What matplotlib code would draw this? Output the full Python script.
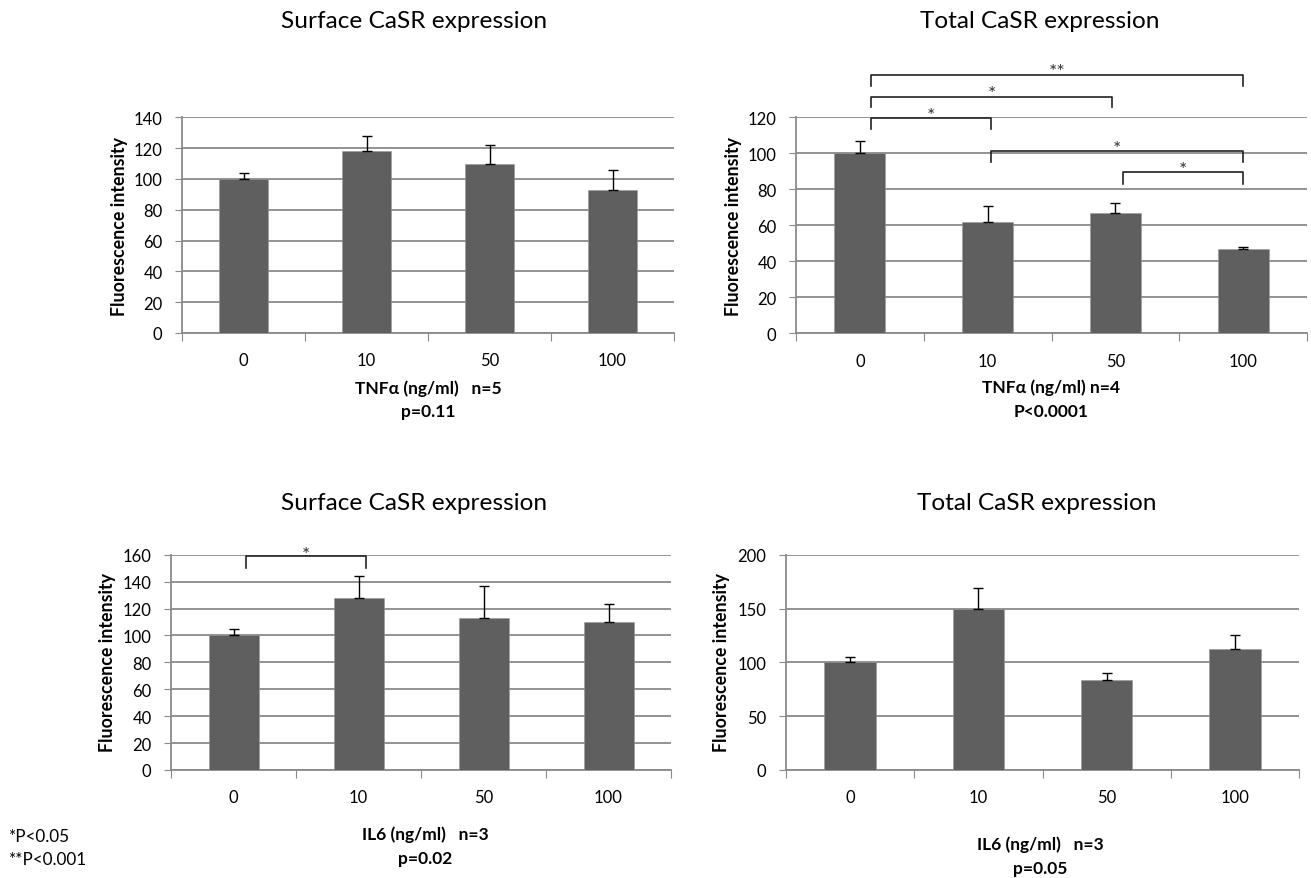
import matplotlib
matplotlib.use("Agg")
import matplotlib.pyplot as plt
import numpy as np

# ---------------- data ----------------
CATEGORIES = ["0", "10", "50", "100"]

SURF_TNF = [100, 118, 110, 93]
SURF_TNF_ERR = [4, 10, 12, 13]

TOTAL_TNF = [100, 62, 67, 47]
TOTAL_TNF_ERR = [7, 9, 5.5, 1.1]

SURF_IL6 = [100, 128, 113, 110]
SURF_IL6_ERR = [5, 16, 23.5, 13.4]

TOTAL_IL6 = [100, 150, 84, 112]
TOTAL_IL6_ERR = [5, 19, 6, 13]

# significance brackets: (from category, to category, bar height, drop height, star label, star height)
TOTAL_TNF_BRACKETS = [
    (0.09, 1.03, 119.4, 113.5, "*", 123.7),
    (0.09, 1.97, 131.5, 125.9, "*", 136.0),
    (0.09, 3.00, 143.7, 137.6, "**", 148.0),
    (1.03, 3.00, 101.3, 95.0, "*", 105.6),
    (2.06, 3.00, 89.4, 83.0, "*", 93.5),
]
SURF_IL6_BRACKETS = [
    (0.10, 1.06, 159.0, 150.3, "*", 164.0),
]

FONT = "Lato"
W, H = 1311, 879
BAR_COLOR = "#5f5f5f"
GRID_COLOR = "#8a8a8a"

fig = plt.figure(figsize=(W / 100, H / 100), dpi=100)


def fx(x):
    return x / W


def fy(y):
    return 1 - y / H


def make_axes(x0, x1, ytop, y0):
    return fig.add_axes([fx(x0), fy(y0), fx(x1) - fx(x0), fy(ytop) - fy(y0)])


def draw_panel(ax, values, errs, ymax, ystep):
    x = np.arange(len(CATEGORIES))
    ax.bar(x, values, width=0.4, color=BAR_COLOR, zorder=3,
           edgecolor="#9a9a9a", linewidth=0.4)
    ax.errorbar(x, values, yerr=[np.zeros(len(errs)), errs], fmt="none",
                ecolor="black", elinewidth=1.0, capsize=3.6, capthick=1.0,
                zorder=4)
    ax.set_xlim(-0.5, len(CATEGORIES) - 0.5)
    ax.set_ylim(0, ymax)
    ticks = np.arange(0, ymax + 0.1, ystep)
    ax.set_yticks(ticks)
    ax.set_yticklabels([str(int(v)) for v in ticks], fontsize=12, family=FONT)
    ax.yaxis.grid(True, color=GRID_COLOR, linewidth=1.3, zorder=0)
    ax.set_axisbelow(True)
    # category boundaries as major ticks, category names as minor ticks
    ax.set_xticks(np.arange(-0.5, len(CATEGORIES)))
    ax.set_xticklabels([])
    ax.set_xticks(x, minor=True)
    ax.set_xticklabels(CATEGORIES, minor=True, fontsize=12, family=FONT)
    ax.tick_params(axis="x", which="major", length=6, color=GRID_COLOR,
                   direction="out")
    ax.tick_params(axis="x", which="minor", length=0, pad=14)
    ax.tick_params(axis="y", length=5, color=GRID_COLOR, pad=9)
    for s in ("top", "right"):
        ax.spines[s].set_visible(False)
    for s in ("left", "bottom"):
        ax.spines[s].set_color(GRID_COLOR)
        ax.spines[s].set_linewidth(1.3)


def draw_brackets(ax, brackets):
    for x0, x1, yh, yd, lab, ys in brackets:
        ax.plot([x0, x0, x1, x1], [yd, yh, yh, yd], color="#222222",
                linewidth=1.2, clip_on=False, zorder=5,
                solid_joinstyle="round")
        ax.annotate(lab, xy=((x0 + x1) / 2, ys), xytext=(0, -3.5),
                    textcoords="offset points", ha="center", va="center",
                    fontsize=14, family=FONT, annotation_clip=False,
                    color="#333333")


ax1 = make_axes(182, 674, 118.3, 334)
draw_panel(ax1, SURF_TNF, SURF_TNF_ERR, 140, 20)

ax2 = make_axes(796, 1307, 118.3, 334.3)
draw_panel(ax2, TOTAL_TNF, TOTAL_TNF_ERR, 120, 20)
draw_brackets(ax2, TOTAL_TNF_BRACKETS)

ax3 = make_axes(171, 671, 555.7, 771)
draw_panel(ax3, SURF_IL6, SURF_IL6_ERR, 160, 20)
draw_brackets(ax3, SURF_IL6_BRACKETS)

ax4 = make_axes(786, 1299, 555.7, 771)
draw_panel(ax4, TOTAL_IL6, TOTAL_IL6_ERR, 200, 50)

# titles
title_kw = dict(ha="center", va="center", fontsize=17.6, family=FONT)
fig.text(fx(414), fy(21), "Surface CaSR expression", **title_kw)
fig.text(fx(1040), fy(21), "Total CaSR expression", **title_kw)
fig.text(fx(414), fy(503), "Surface CaSR expression", **title_kw)
fig.text(fx(1037), fy(503), "Total CaSR expression", **title_kw)

# y labels
ylab_kw = dict(ha="center", va="center", rotation=90, fontsize=12.8,
               fontweight="bold", family=FONT)
fig.text(fx(120), fy(226), "Fluorescence intensity", **ylab_kw)
fig.text(fx(733), fy(226), "Fluorescence intensity", **ylab_kw)
fig.text(fx(107), fy(663), "Fluorescence intensity", **ylab_kw)
fig.text(fx(721), fy(663), "Fluorescence intensity", **ylab_kw)

# x labels
xl_kw = dict(ha="center", va="center", fontsize=12.5, fontweight="bold",
             family=FONT)
fig.text(fx(428), fy(389), "TNFα (ng/ml)   n=5", **xl_kw)
fig.text(fx(428), fy(412), "p=0.11", **xl_kw)
fig.text(fx(1051), fy(388), "TNFα (ng/ml) n=4", **xl_kw)
fig.text(fx(1051), fy(412), "P<0.0001", **xl_kw)
fig.text(fx(425), fy(835), "IL6 (ng/ml)   n=3", **xl_kw)
fig.text(fx(425), fy(859), "p=0.02", **xl_kw)
fig.text(fx(1040), fy(845), "IL6 (ng/ml)   n=3", **xl_kw)
fig.text(fx(1040), fy(869), "p=0.05", **xl_kw)

# legend of significance
leg_kw = dict(ha="left", va="center", fontsize=12.3, family=FONT)
fig.text(fx(9), fy(837), "*P<0.05", **leg_kw)
fig.text(fx(9), fy(860), "**P<0.001", **leg_kw)

fig.savefig("out.png", dpi=100)
